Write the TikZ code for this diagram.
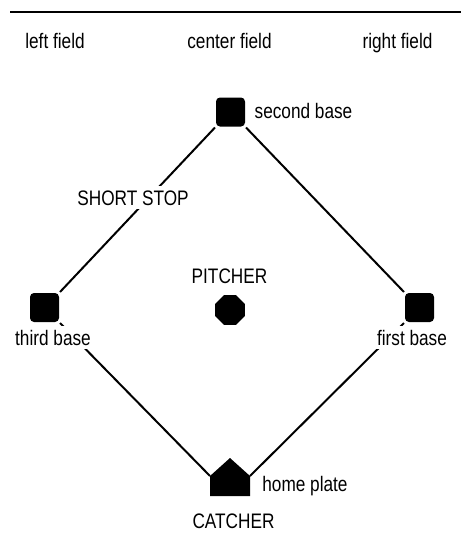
\documentclass[tikz,border=0pt]{standalone}
\usepackage{fontspec}
\setmainfont[FakeStretch=0.82]{Liberation Sans}
\usetikzlibrary{shapes.geometric}

\begin{document}
\begin{tikzpicture}[x=1pt, y=-1pt, line width=2pt,
  every node/.style={font=\fontsize{21}{25}\selectfont},
  base/.style={fill=black, rounded corners=4pt, minimum width=29pt, minimum height=29pt, inner sep=0pt},
  tag/.style={anchor=base, fill=white, inner sep=4pt}]
  \useasboundingbox (0,0) rectangle (461,550);
  \draw[line width=2.5pt] (10,12) -- (461,12);
  % outfield
  \node[anchor=base] (lf) at (55,48) {left field};
  \node[anchor=base] (cf) at (229.5,48) {center field};
  \node[anchor=base] (rf) at (397.5,48) {right field};
  % bases
  \node[base] (second) at (230.5,112) {};
  \node[base] (third) at (44.5,307.5) {};
  \node[base] (first) at (419.5,307.5) {};
  \node[regular polygon, regular polygon sides=8, fill=black, minimum size=32pt, inner sep=0pt] (pitcher) at (230,310) {};
  \fill (210,476) -- (230,458) -- (250,476) -- (250,496) -- (210,496) -- cycle;
  \coordinate (homeL) at (210,476);
  \coordinate (homeR) at (250,476);
  % base paths
  \draw (second.south west) -- (third.north east);
  \draw (second.south east) -- (first.north west);
  \draw (third.south east) -- (homeL);
  \draw (first.south west) -- (homeR);
  % labels
  \node[tag] (secondlbl) at (303.5,118) {second base};
  \node[tag] (ss) at (133,205) {SHORT STOP};
  \node[tag] (pitchlbl) at (229.5,283) {PITCHER};
  \node[tag] (thirdlbl) at (53,345) {third base};
  \node[tag] (firstlbl) at (412,345) {first base};
  \node[tag] (homelbl) at (305,491) {home plate};
  \node[tag] (catcher) at (233.5,528) {CATCHER};
\end{tikzpicture}
\end{document}
